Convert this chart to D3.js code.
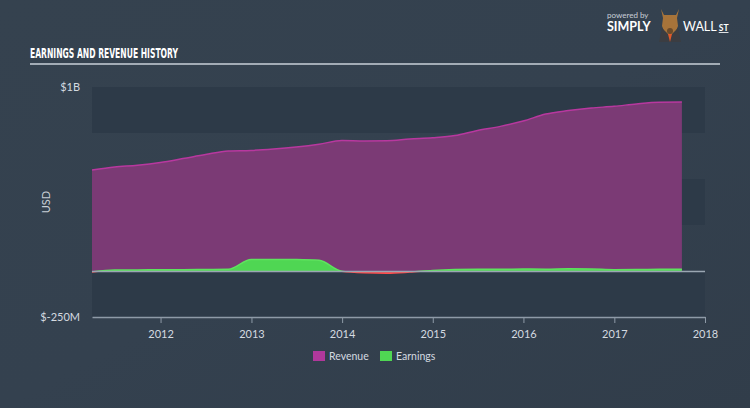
<!DOCTYPE html>
<html><head><meta charset="utf-8">
<script src="https://cdn.jsdelivr.net/npm/d3@7"></script>
<style>
html,body{margin:0;padding:0;background:#333f4e;}
svg{display:block;}
</style></head>
<body>
<svg id="chart" width="750" height="408"></svg>
<script>
// ---- data (quarterly, USD millions) ----
const dates = ["2011-03-31","2011-06-30","2011-09-30","2011-12-31","2012-03-31","2012-06-30","2012-09-30","2012-12-31",
  "2013-03-31","2013-06-30","2013-09-30","2013-12-31","2014-03-31","2014-06-30","2014-09-30","2014-12-31",
  "2015-03-31","2015-06-30","2015-09-30","2015-12-31","2016-03-31","2016-06-30","2016-09-30","2016-12-31",
  "2017-03-31","2017-06-30","2017-09-30"];
const revenue = [549,565,575,590,611,633,652,655,663,674,689,709,707,708,717,724,736,764,786,815,853,872,886,895,908,917,918];
const earnings = [-5,6,6,7,7,8,9,63,63,62,58,-2,-10,-12,-6,3,8,10,9,11,10,12,11,7,8,9,10];
const yTicks = [1000,-250];
const yTickLabels = ["$1B","$-250M"];
const xTickYears = [2012,2013,2014,2015,2016,2017,2018];
const legendNames = ["Revenue","Earnings"];

const parse = d3.timeParse("%Y-%m-%d");
const data = dates.map((d,i)=>({date:parse(d),rev:revenue[i],earn:earnings[i]}));

const svg = d3.select("#chart");
const W=750,H=408;
const defs = svg.append("defs");
const bg = defs.append("linearGradient").attr("id","bg").attr("x1",0).attr("y1",0).attr("x2",1).attr("y2",1);
bg.append("stop").attr("offset","0%").attr("stop-color","#35424f");
bg.append("stop").attr("offset","50%").attr("stop-color","#34414f");
bg.append("stop").attr("offset","100%").attr("stop-color","#313d4a");
svg.append("rect").attr("width",W).attr("height",H).attr("fill","url(#bg)");

const x = d3.scaleTime().domain([parse("2011-03-31"),parse("2018-01-01")]).range([92,705]);
const y = d3.scaleLinear().domain([-250,1000]).range([317,87]);

// bands
const bandEdges = d3.range(-250,1000,250);
svg.append("g").selectAll("rect").data(bandEdges).join("rect")
  .attr("x",x.range()[0]).attr("width",x.range()[1]-x.range()[0])
  .attr("y",d=>y(d+250)).attr("height",d=>y(d)-y(d+250))
  .attr("fill",(d,i)=> i%2===0 ? "#2d3a48" : "none");

// revenue area
const curve = d3.curveMonotoneX;
svg.append("path").datum(data)
  .attr("d",d3.area().x(d=>x(d.date)).y0(y(0)).y1(d=>y(d.rev)).curve(curve))
  .attr("fill","#7b3a75");
svg.append("path").datum(data)
  .attr("d",d3.line().x(d=>x(d.date)).y(d=>y(d.rev)).curve(curve))
  .attr("fill","none").attr("stroke","#b8389f").attr("stroke-width",1.5);

// earnings with pos/neg clipping
defs.append("clipPath").attr("id","above").append("rect").attr("x",0).attr("y",0).attr("width",W).attr("height",y(0));
defs.append("clipPath").attr("id","below").append("rect").attr("x",0).attr("y",y(0)).attr("width",W).attr("height",H);
const eArea = d3.area().x(d=>x(d.date)).y0(y(0)).y1(d=>y(d.earn)).curve(curve);
const eLine = d3.line().x(d=>x(d.date)).y(d=>y(d.earn)).curve(curve);
svg.append("path").datum(data).attr("d",eArea).attr("fill","#4fd653").attr("clip-path","url(#above)");
svg.append("path").datum(data).attr("d",eArea).attr("fill","#e8434a").attr("clip-path","url(#below)");
svg.append("path").datum(data).attr("d",eLine).attr("fill","none").attr("stroke","#5ee35e").attr("stroke-width",1.5).attr("clip-path","url(#above)");
svg.append("path").datum(data).attr("d",eLine).attr("fill","none").attr("stroke","#ff4d4d").attr("stroke-width",1.5).attr("clip-path","url(#below)");

// zero line
svg.append("line").attr("x1",x.range()[0]).attr("x2",x.range()[1]).attr("y1",y(0)+0.5).attr("y2",y(0)+0.5)
  .attr("stroke","#9aa6b2").attr("stroke-width",1.5);

// x axis
const xAxis = d3.axisBottom(x)
  .tickValues(xTickYears.map(yr=>new Date(yr,0,1)))
  .tickFormat(d3.timeFormat("%Y")).tickSize(6).tickSizeOuter(0);
const gx = svg.append("g").attr("transform",`translate(0,${y(-250)})`).call(xAxis);
gx.select(".domain").attr("stroke","#8e9aa7").attr("stroke-width",1.5);
gx.selectAll(".tick line").attr("stroke","#8e9aa7");
gx.selectAll("text").attr("fill","#d4dae0").attr("font-family","Lato, 'Open Sans', sans-serif").attr("font-size",11).attr("dy","1.05em");

// y labels
svg.append("g").selectAll("text").data(yTicks).join("text")
  .attr("x",80).attr("y",d=>y(d)).attr("dy","0.35em").attr("text-anchor","end")
  .attr("fill","#d4dae0").attr("font-family","Lato, 'Open Sans', sans-serif").attr("font-size",11)
  .text((d,i)=>yTickLabels[i]);
svg.append("text").attr("transform","translate(50,202) rotate(-90)").attr("text-anchor","middle")
  .attr("fill","#c8cfd6").attr("font-family","Lato, 'Open Sans', sans-serif").attr("font-size",11).text("USD");

// title
svg.append("text").attr("x",30).attr("y",58).attr("fill","#ffffff")
  .attr("font-family","'Liberation Sans Narrow','DejaVu Sans Condensed',sans-serif").attr("font-weight","bold")
  .attr("font-size",14.5).attr("textLength",148).attr("lengthAdjust","spacingAndGlyphs")
  .text("EARNINGS AND REVENUE HISTORY");
svg.append("line").attr("x1",30).attr("x2",720).attr("y1",64).attr("y2",64).attr("stroke","#c9d0d8").attr("stroke-width",1.5);

// logo
svg.append("text").attr("x",607).attr("y",18).attr("fill","#c9d0d8").attr("font-family","Lato, sans-serif").attr("font-size",8).text("powered by");
svg.append("text").attr("x",607).attr("y",31).attr("fill","#ffffff").attr("font-family","Lato, sans-serif").attr("font-weight","bold").attr("font-size",12.5).text("SIMPLY");
const logo = svg.append("g").attr("transform","translate(670,24)");
logo.append("path").attr("d","M-9,-15 L-6,-9 L6,-9 L9,-15 L7,-6 L8,2 L4,12 L-4,12 L-8,2 L-7,-6 Z").attr("fill","#a8743a");
logo.append("path").attr("d","M-8,4 L-11,18 L11,18 L8,4 L0,12 Z").attr("fill","#3b3d42");
logo.append("path").attr("d","M-2,10 L0,18 L2,10 Z").attr("fill","#e05a2a");
logo.append("circle").attr("cx",0).attr("cy",7).attr("r",3).attr("fill","#6b4a2a");
const wall = svg.append("text").attr("x",683).attr("y",31).attr("fill","#ffffff").attr("font-family","Lato, sans-serif");
wall.append("tspan").attr("font-size",12.5).text("WALL");
wall.append("tspan").attr("dx",2).attr("font-size",8.5).attr("font-weight","bold").attr("text-decoration","underline").text("ST");

// legend
const legColors = ["#b0389b","#4fd653"];
const legX = [313,380];
const leg = svg.append("g").selectAll("g").data(legendNames).join("g").attr("transform",(d,i)=>`translate(${legX[i]},351)`);
leg.append("rect").attr("width",12).attr("height",10).attr("fill",(d,i)=>legColors[i]);
leg.append("text").attr("x",16).attr("y",5).attr("dy","0.35em").attr("fill","#d4dae0")
  .attr("font-family","Lato, 'Open Sans', sans-serif").attr("font-size",10.5).text(d=>d);
</script>
</body></html>
